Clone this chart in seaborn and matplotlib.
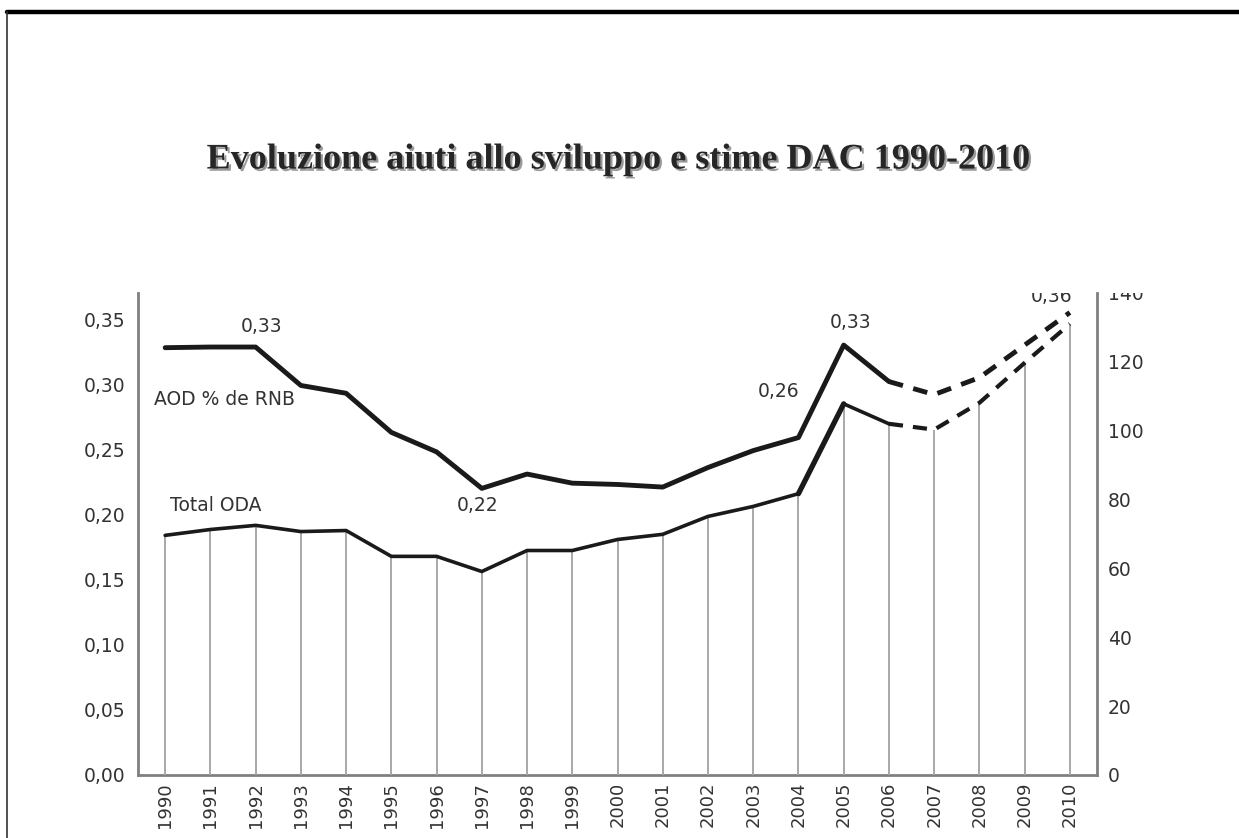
import numpy as np
import pandas as pd
import matplotlib
matplotlib.use("Agg")
import matplotlib.pyplot as plt
import matplotlib.patheffects as pe
from matplotlib.lines import Line2D
from matplotlib.transforms import Bbox, TransformedBbox
import seaborn as sns

# data
years = list(range(1990, 2011))
aod_pct_rnb = [0.328, 0.3285, 0.3285, 0.299, 0.293, 0.263, 0.248, 0.220, 0.231, 0.224, 0.223,
               0.221, 0.236, 0.249, 0.259, 0.330, 0.302, 0.292, 0.305, 0.330, 0.355]
total_oda = [69.6, 71.3, 72.5, 70.7, 71.0, 63.5, 63.5, 59.1, 65.2, 65.2, 68.4,
             69.9, 75.1, 78.0, 81.7, 107.8, 102.0, 100.3, 108.1, 119.7, 131.0]
last_actual = 2006  # estimates (dashed) after this year

left_ticks = [0.00, 0.05, 0.10, 0.15, 0.20, 0.25, 0.30, 0.35]
right_ticks = [0, 20, 40, 60, 80, 100, 120, 140]

sns.set_style("white")
plt.rcParams['font.family'] = ['DejaVu Sans']

df = pd.DataFrame({"year": years, "aod": aod_pct_rnb, "oda": total_oda})
actual = df[df.year <= last_actual]
estim = df[df.year >= last_actual]

fig = plt.figure(figsize=(12.39, 8.38), dpi=100)
ax = fig.add_axes([0.1114, 0.0752, 0.774, 0.5752])
ax2 = ax.twinx()

txt_col = "#333333"
spine_col = "#808080"
fs = 13.5

# drop lines for total ODA
ax2.vlines(df.year, 0, df.oda, color="#a8a8a8", lw=1.4, zorder=1)

sns.lineplot(data=actual, x="year", y="aod", ax=ax, color="#1a1a1a", lw=3.5, zorder=3)
sns.lineplot(data=estim, x="year", y="aod", ax=ax, color="#1a1a1a", lw=3.5, zorder=3,
             linestyle=(0, (3.0, 2.2)))
sns.lineplot(data=actual, x="year", y="oda", ax=ax2, color="#1a1a1a", lw=2.6, zorder=3)
sns.lineplot(data=df[(df.year >= 2004) & (df.year <= 2005)], x="year", y="oda", ax=ax2,
             color="#1a1a1a", lw=3.8, zorder=3)
sns.lineplot(data=estim, x="year", y="oda", ax=ax2, color="#1a1a1a", lw=3.0, zorder=3,
             linestyle=(0, (3.4, 2.4)))

ax.set_xlim(1989.40, 2010.60)
ax.set_ylim(0, 0.37)
ax2.set_ylim(0, 139.8)

ax.set_xticks(years)
ax.set_xticklabels([str(y) for y in years], rotation=90, fontsize=13, color=txt_col)
ax.set_yticks(left_ticks)
ax.set_yticklabels([f"{v:.2f}".replace(".", ",") for v in left_ticks], fontsize=fs, color=txt_col)
ax2.set_yticks(right_ticks)
ax2.set_yticklabels([str(v) for v in right_ticks], fontsize=fs, color=txt_col)

ax.tick_params(axis="both", length=0)
ax.tick_params(axis="y", pad=9)
ax.tick_params(axis="x", pad=5)
ax2.tick_params(axis="y", length=0, pad=8)

ax.set_xlabel("")
ax.set_ylabel("")
ax2.set_ylabel("")
ax.grid(False)
ax2.grid(False)

for a in (ax, ax2):
    for s in a.spines.values():
        s.set_visible(False)
for side in ("left", "bottom"):
    ax.spines[side].set_visible(True)
    ax.spines[side].set_color(spine_col)
    ax.spines[side].set_linewidth(2.0)
ax2.spines["right"].set_visible(True)
ax2.spines["right"].set_color(spine_col)
ax2.spines["right"].set_linewidth(2.0)

# labels on the chart
kw = dict(fontsize=fs, color=txt_col, clip_on=True)
ax.text(1992.12, 0.344, "0,33", ha="center", va="center", **kw)
ax.text(1989.76, 0.288, "AOD % de RNB", ha="left", va="center", **kw)
ax.text(1990.11, 0.207, "Total ODA", ha="left", va="center", **kw)
ax.text(1996.90, 0.2065, "0,22", ha="center", va="center", **kw)
ax.text(2003.55, 0.2947, "0,26", ha="center", va="center", **kw)
ax.text(2005.16, 0.347, "0,33", ha="center", va="center", **kw)
ax.text(2009.60, 0.367, "0,36", ha="center", va="center", **kw)

# the top of the picture is cropped, also the last right tick label
fig.canvas.draw()
clip = TransformedBbox(Bbox([[0.0, 0.0], [1.0, 0.6504]]), fig.transFigure)
for lab in ax2.get_yticklabels():
    lab.set_clip_box(clip)
    lab.set_clip_on(True)

fig.text(0.4992, 0.809, "Evoluzione aiuti allo sviluppo e stime DAC 1990-2010",
         ha="center", va="center", fontsize=26, fontweight="bold",
         family=["Liberation Serif", "DejaVu Serif"], color="#262626",
         path_effects=[pe.SimplePatchShadow(offset=(1.6, -1.6), shadow_rgbFace="#9a9a9a", alpha=1),
                       pe.Normal()])

# page frame
fig.add_artist(Line2D([7 / 1239, 1.0], [1 - 12 / 838, 1 - 12 / 838], color="black", lw=3.2))
fig.add_artist(Line2D([7 / 1239, 7 / 1239], [0.0, 1 - 12 / 838], color="#333333", lw=1.2))

fig.savefig("out.png", dpi=100)
